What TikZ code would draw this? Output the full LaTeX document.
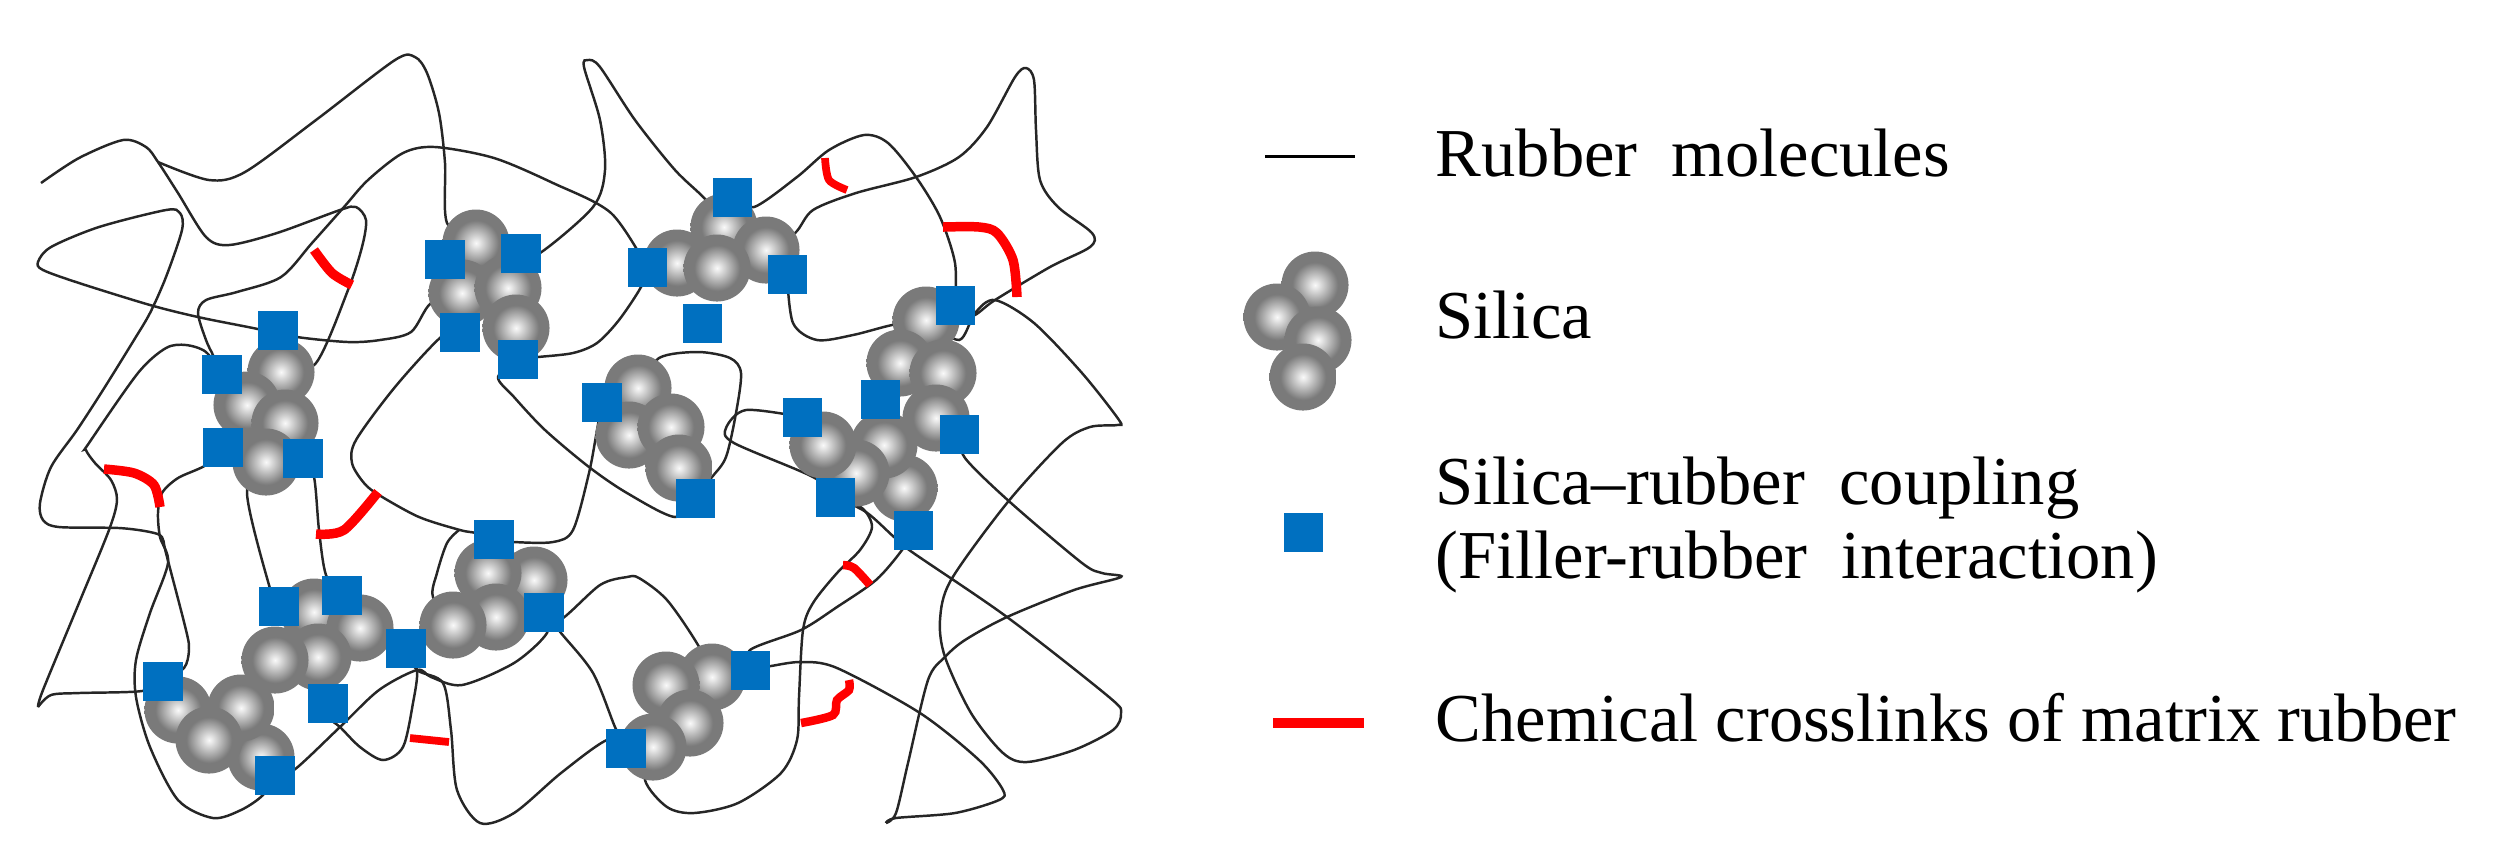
\documentclass[tikz,border=0pt]{standalone}
\usepackage{fontspec}
\setmainfont{Liberation Serif}
\usetikzlibrary{backgrounds}
\definecolor{couplingblue}{HTML}{0070C0}
\definecolor{rimgray}{HTML}{7A7A7A}
\pgfdeclareradialshading{silicaball}{\pgfpointorigin}{
  color(0bp)=(white!96!rimgray); color(3bp)=(white!80!rimgray); color(17bp)=(rimgray); color(25bp)=(rimgray); color(50bp)=(rimgray)}
\begin{document}
\begin{tikzpicture}[
    x=0.01cm, y=-0.01cm,
    silica/.style={circle, shading=silicaball, minimum size=0.67cm, inner sep=0pt},
    coupling/.style={rectangle, fill=couplingblue, minimum size=0.39cm, inner sep=0pt},
    rubber/.style={line width=0.7pt, black!85},
    crosslink/.style={line width=2.7pt, red},
    legendtext/.style={anchor=base west, inner sep=0pt, font=\fontsize{19.5}{23}\selectfont}]
    \useasboundingbox (0,0) rectangle (2513,859);

    % silica clusters
    \foreach \n/\x/\y in {a1/281/372,a2/247/405,a3/285/423,a4/266/462,
        b1/476/243,b2/462/293,b3/508/288,b4/516/328,
        c1/724/227,c2/766/250,c3/677/263,c4/717/268,
        d1/926/320,d2/900/363,d3/943/373,d4/904/488,d5/884/445,d6/936/418,d7/856/473,d8/823/445,
        e1/638/388,e2/629/435,e3/671/427,e4/679/468,
        f1/314/612,f2/360/628,f3/318/657,f4/275/660,
        g1/261/757,g2/241/708,g3/178/710,g4/209/740,
        h1/534/580,h2/488/573,h3/496/617,h4/453/625,
        i1/712/677,i2/666/685,i3/690/723,i4/653/747,
        leg1/1315/285,leg2/1277/317,leg3/1318/340,leg4/1303/377}
      \node[silica] (\n) at (\x,\y) {};

    % couplings
    \foreach \n/\x/\y in {cp1/278/330,cp2/222/374,cp3/223/447,cp4/303/458,cp5/445/259,
        cp6/521/253,cp7/460/332,cp8/518/359,cp9/732/197,cp10/647/267,
        cp11/787/274,cp12/702/323,cp13/955/305,cp14/602/402,cp15/802/417,
        cp16/880/399,cp17/959/434,cp18/279/606,cp19/342/595,cp20/406/648,
        cp21/494/539,cp22/544/612,cp23/163/681,cp24/328/703,cp25/275/775,
        cp26/695/498,cp27/835/497,cp28/913/530,cp29/750/670,cp30/626/748,
        legcp/1303/532}
      \node[coupling] (\n) at (\x,\y) {};

    % rubber chains
    \begin{scope}[on background layer]
      \draw[rubber] plot[smooth] coordinates {(41,183) (79,158) (123,140) (146,147) (158,162) (178,193) (206,237) (229,245) (277,233) (340,210) (356,207) (366,220) (362,247) (348,290) (316,363) (a1.center)};
      \draw[rubber] plot[smooth] coordinates {(158,162) (209,180) (245,172) (316,120) (395,60) (415,57) (427,73) (439,113) (445,163) (447,223) (b1.center)};
      \draw[rubber] plot[smooth] coordinates {(cp2.center) (213,355) (206,340) (198,313) (206,300) (237,292) (281,277) (312,243) (344,207) (368,180) (403,153) (435,147) (494,158) (553,183) (611,213) (cp10.center)};
      \draw[rubber] plot[smooth] coordinates {(b2.center) (431,303) (411,332) (380,340) (348,342) (297,337) (253,328) (198,317) (150,305) (79,283) (43,270) (38,262) (51,247) (99,227) (166,210) (180,213) (182,230) (166,277) (150,313) (134,340) (103,390) (77,430) (51,467) (40,503) (43,520) (59,527) (119,528) (150,532) (162,537) (166,553) (186,630) (189,650) (184,668) (cp23.center)};
      \draw[rubber] plot[smooth] coordinates {(cp2.center) (206,352) (186,345) (166,348) (138,373) (89,443) (86,450) (95,463) (111,480) (117,500) (109,530) (79,603) (43,690) (38,707)};
      \draw[rubber] plot[smooth] coordinates {(38,707) (51,695) (79,693) (142,691) (cp23.center)};
      \draw[rubber] plot[smooth] coordinates {(cp3.center) (206,465) (178,478) (162,493) (158,513) (160,537) (168,563) (150,613) (136,660) (136,697) (150,747) (178,800) (213,818) (241,810) (263,795) (cp25.center)};
      \draw[rubber] plot[smooth] coordinates {(a4.center) (247,493) (269,585) (cp18.center)};
      \draw[rubber] plot[smooth] coordinates {(cp4.center) (314,477) (319,530) (326,575) (cp19.center)};
      \draw[rubber] plot[smooth] coordinates {(cp7.center) (441,337) (395,387) (356,440) (352,463) (364,483) (379,495) (419,517) (460,530) (476,533) (cp21.center)};
      \draw[rubber] plot[smooth] coordinates {(cp21.center) (514,542) (553,542) (573,530) (589,473) (597,430) (cp14.center)};
      \draw[rubber] plot[smooth] coordinates {(459,530) (447,543) (437,573) (433,597) (h4.center)};
      \draw[rubber] plot[smooth] coordinates {(cp8.center) (498,377) (514,397) (545,430) (589,467) (627,493) (675,517) (cp26.center)};
      \draw[rubber] plot[smooth] coordinates {(cp6.center) (540,253) (593,207) (605,170) (600,120) (584,67) (588,60) (600,67) (635,120) (675,170) (706,200) (c1.center)};
      \draw[rubber] plot[smooth] coordinates {(cp8.center) (538,357) (573,353) (597,343) (619,320) (641,287) (cp10.center)};
      \draw[rubber] plot[smooth] coordinates {(cp9.center) (754,207) (797,177) (829,150) (864,135) (888,143) (916,177) (940,217) (955,263) (cp13.center)};
      \draw[rubber] plot[smooth] coordinates {(c2.center) (795,233) (813,210) (856,193) (916,177) (959,157) (987,127) (1015,77) (1026,68) (1034,80) (1036,130) (1040,180) (1058,207) (1092,233) (1090,247) (1050,267) (995,300) (972,316) (cp13.center)};
      \draw[rubber] plot[smooth] coordinates {(cp11.center) (793,323) (817,340) (853,335) (892,325) (d1.center)};
      \draw[rubber] plot[smooth] coordinates {(d1.center) (959,340) (975,313) (995,300) (1034,323) (1082,373) (1119,420) (1117,425) (1090,427) (1062,443) (1007,503) (951,580) (940,620) (945,657) (971,713) (1003,753) (1027,762) (1074,750) (1113,730) (1121,713) (1109,697) (1007,617) (912,552) (894,537) (866,512) (cp27.center)};
      \draw[rubber] plot[smooth] coordinates {(cp17.center) (965,458) (1011,503) (1082,563) (1102,573) (1121,577) (1074,590) (1007,617) (965,640) (945,657) (928,680) (908,763) (896,813) (886,823)};
      \draw[rubber] plot[smooth] coordinates {(886,823) (896,818) (955,813) (999,800) (1003,790) (979,760) (920,713) (837,668) (801,662) (771,666) (cp29.center)};
      \draw[rubber] plot[smooth] coordinates {(cp27.center) (862,508) (872,527) (860,550) (837,573) (813,603) (803,630) (799,697) (797,740) (781,773) (738,803) (694,813) (667,807) (645,780) (i4.center)};
      \draw[rubber] plot[smooth] coordinates {(cp28.center) (902,550) (876,580) (837,607) (801,630) (750,650) (cp29.center)};
      \draw[rubber] plot[smooth] coordinates {(i1.center) (698,645) (667,600) (639,578) (627,577) (600,585) (560,620) (cp22.center)};
      \draw[rubber] plot[smooth] coordinates {(cp22.center) (561,633) (593,673) (615,727) (cp30.center)};
      \draw[rubber] plot[smooth] coordinates {(cp22.center) (547,633) (514,663) (462,685) (431,677) (417,670) (379,690) (340,727) (294,770) (cp25.center)};
      \draw[rubber] plot[smooth] coordinates {(cp20.center) (417,670) (413,703) (403,747) (383,760) (360,747) (340,727) (328,717) (cp24.center)};
      \draw[rubber] plot[smooth] coordinates {(cp20.center) (417,670) (443,683) (451,730) (457,790) (480,823) (514,813) (561,773) (607,740) (cp30.center)};
      \draw[rubber] plot[smooth] coordinates {(e1.center) (659,358) (698,352) (730,358) (741,373) (736,413) (726,457) (712,477) (cp26.center)};
      \draw[rubber] plot[smooth] coordinates {(cp15.center) (746,410) (726,428) (734,443) (813,477) (cp27.center)};
    \end{scope}

    % crosslinks
    \draw[crosslink] plot[smooth] coordinates {(314,250) (332,273) (352,285)};
    \draw[crosslink, line width=2.2pt] plot[smooth] coordinates {(825,158) (829,180) (847,190)};
    \draw[crosslink] plot[smooth] coordinates {(943,227) (979,227) (997,233) (1013,260) (1017,297)};
    \draw[crosslink] plot[smooth] coordinates {(104,469) (134,473) (154,485) (160,507)};
    \draw[crosslink] plot[smooth] coordinates {(316,534) (344,530) (378,492)};
    \draw[crosslink, line width=2.2pt] plot[smooth] coordinates {(410,738) (449,742)};
    \draw[crosslink, line width=2.4pt] plot[smooth] coordinates {(843,565) (854,568) (870,585)};
    \draw[crosslink, line width=2.4pt] plot[smooth] coordinates {(801,723) (833,715) (837,700) (849,690) (849,680)};

    % legend
    \coordinate (lineL) at (1265,156);
    \coordinate (lineR) at (1355,156);
    \coordinate (redL) at (1273,723);
    \coordinate (redR) at (1364,723);
    \draw[line width=0.85pt, black] (lineL) -- (lineR);
    \draw[line width=2.6pt, red] (redL) -- (redR);
    \node[legendtext] (rubbertxt) at (1435,176) {Rubber\ \ molecules};
    \node[legendtext] (silicatxt) at (1435,338) {Silica};
    \node[legendtext] (cptxt) at (1435,504) {Silica--rubber\ \ coupling};
    \node[legendtext] (fillertxt) at (1435,578) {(Filler-rubber\ \ interaction)};
    \node[legendtext] (linktxt) at (1435,741) {Chemical crosslinks of matrix rubber};
\end{tikzpicture}
\end{document}
